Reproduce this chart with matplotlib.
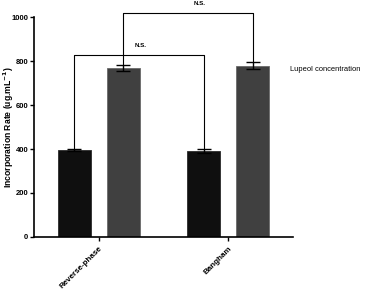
import matplotlib.pyplot as plt
import numpy as np

plt.rcParams['font.family'] = ['Liberation Sans', 'DejaVu Sans']

# Dados
categorias = ["Reverse-phase", "Bangham"]
media_preta = [395, 392]
erro_preto = [3, 8]
media_cinza = [770, 779]
erro_cinza = [14, 15]
rotulo_legenda = "Lupeol concentration"

x = np.arange(len(categorias))
largura = 0.254
desloc = 0.188

fig = plt.figure(figsize=(3.65, 2.89), dpi=100)
ax = fig.add_axes([0.093, 0.18, 0.71, 0.761])

ax.bar(x - desloc, media_preta, largura, yerr=erro_preto, color="#0f0f0f",
       edgecolor="#2a2a2a", linewidth=0.6, capsize=5,
       error_kw=dict(elinewidth=1, capthick=1, ecolor="black"))
ax.bar(x + desloc, media_cinza, largura, yerr=erro_cinza, color="#404040",
       edgecolor="#6a6a6a", linewidth=0.6, capsize=5,
       error_kw=dict(elinewidth=1, capthick=1, ecolor="black"))

ax.set_xlim(-0.5, 1.5)
ax.set_ylim(0, 1000)
ax.set_yticks([0, 200, 400, 600, 800, 1000])
ax.set_xticks(x)
ax.set_xticklabels(categorias, rotation=45, ha="right", rotation_mode="anchor",
                   fontsize=5.8, fontweight="bold")
for t in ax.get_yticklabels():
    t.set_fontsize(5.5)
    t.set_fontweight("bold")
ax.tick_params(length=3, width=1, pad=1)
ax.tick_params(axis="x", pad=3)
ax.set_ylabel("Incorporation Rate (ug.mL$^{\\mathbf{-1}}$)", fontsize=6.2,
              fontweight="bold")
ax.yaxis.set_label_coords(-0.07, 0.5)
for lado in ["top", "right"]:
    ax.spines[lado].set_visible(False)
for lado in ["left", "bottom"]:
    ax.spines[lado].set_linewidth(1.2)

# Colchetes de significância
def colchete(x1, x2, y1, y2, topo, texto, xt, yt):
    ax.plot([x1, x1, x2, x2], [y1, topo, topo, y2], color="black", lw=0.8,
            clip_on=False)
    ax.text(xt, yt, texto, fontsize=4.5, fontweight="bold", ha="center",
            va="center")

topo_preto = [m + e for m, e in zip(media_preta, erro_preto)]
topo_cinza = [m + e for m, e in zip(media_cinza, erro_cinza)]
colchete(x[0] - desloc, x[1] - desloc, topo_preto[0], topo_preto[1], 827,
         "N.S.", 0.32, 870)
colchete(x[0] + desloc, x[1] + desloc, topo_cinza[0], topo_cinza[1], 1018,
         "N.S.", 0.78, 1060)

fig.text(0.795, 0.758, rotulo_legenda, fontsize=5.4, ha="left", va="center")

fig.savefig("out.png", dpi=100)
